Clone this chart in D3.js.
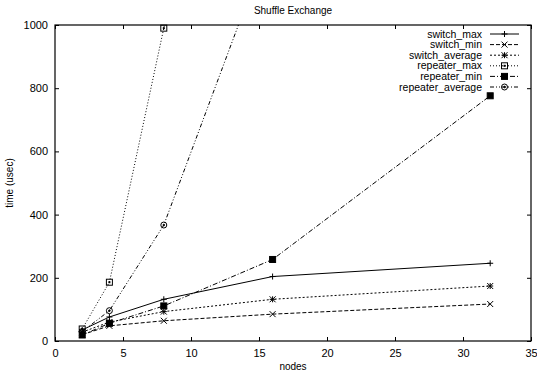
<!DOCTYPE html>
<html>
<head>
<meta charset="utf-8">
<script src="https://cdn.jsdelivr.net/npm/d3@7"></script>
<style>
  body { margin: 0; background: #fff; }
  text { font-family: "Liberation Sans", Arial, sans-serif; fill: #000; }
</style>
</head>
<body>
<svg id="chart" width="537" height="379"></svg>
<script>
// node counts on the x axis
const nodes = [2, 4, 8, 16, 32];

// time (usec) per series, null where the point is not shown
const switchMax = [35, 76, 132, 204, 246];
const switchMin = [20, 48, 64, 85, 117];
const switchAverage = [28, 60, 93, 132, 174];
const repeaterMax = [38, 186, 990, 2600, null];
const repeaterMin = [19, 56, 111, 258, 776];
const repeaterAverage = [30, 96, 367, 1290, null];

const seriesNames = ["switch_max", "switch_min", "switch_average", "repeater_max", "repeater_min", "repeater_average"];
const xTicks = [0, 5, 10, 15, 20, 25, 30, 35];
const yTicks = [0, 200, 400, 600, 800, 1000];

const series = [
  { name: seriesNames[0], values: switchMax, dash: null, marker: "plus" },
  { name: seriesNames[1], values: switchMin, dash: "4,2", marker: "cross" },
  { name: seriesNames[2], values: switchAverage, dash: "2,2", marker: "star" },
  { name: seriesNames[3], values: repeaterMax, dash: "1,2", marker: "box" },
  { name: seriesNames[4], values: repeaterMin, dash: "5,2,1,2", marker: "fbox" },
  { name: seriesNames[5], values: repeaterAverage, dash: "4,2,1,2,1,2", marker: "circle" }
];

const margin = { left: 55, right: 6, top: 25, bottom: 38 };
const width = 537 - margin.left - margin.right;
const height = 379 - margin.top - margin.bottom;

const svg = d3.select("#chart");
const g = svg.append("g").attr("transform", "translate(" + margin.left + "," + margin.top + ")");

const x = d3.scaleLinear().domain([0, 35]).range([0, width]);
const y = d3.scaleLinear().domain([0, 1000]).range([height, 0]);

// axes with inward ticks, mirrored on top and right
function styleAxis(sel) {
  sel.select(".domain").remove();
  sel.selectAll("line").attr("stroke", "#000");
  sel.selectAll("text").style("font-size", "11px");
}
g.append("g").attr("transform", "translate(0," + height + ")")
  .call(d3.axisBottom(x).tickValues(xTicks).tickSize(-4).tickPadding(8).tickFormat(d3.format("d")))
  .call(styleAxis);
g.append("g")
  .call(d3.axisLeft(y).tickValues(yTicks).tickSize(-4).tickPadding(7).tickFormat(d3.format("d")))
  .call(styleAxis);
g.append("g")
  .call(d3.axisTop(x).tickValues(xTicks).tickSize(-4).tickFormat(""))
  .call(styleAxis);
g.append("g").attr("transform", "translate(" + width + ",0)")
  .call(d3.axisRight(y).tickValues(yTicks).tickSize(-4).tickFormat(""))
  .call(styleAxis);

g.append("rect")
  .attr("width", width).attr("height", height)
  .attr("fill", "none").attr("stroke", "#000").attr("stroke-width", 1.2);

// title and axis labels
svg.append("text").attr("x", margin.left + width / 2).attr("y", 14)
  .attr("text-anchor", "middle").style("font-size", "10px").text("Shuffle Exchange");
svg.append("text").attr("x", margin.left + width / 2).attr("y", 370)
  .attr("text-anchor", "middle").style("font-size", "10px").text("nodes");
svg.append("text").attr("transform", "translate(13," + (margin.top + height / 2) + ") rotate(-90)")
  .attr("text-anchor", "middle").style("font-size", "10px").text("time (usec)");

g.append("clipPath").attr("id", "clip")
  .append("rect").attr("x", -4).attr("y", -4).attr("width", width + 8).attr("height", height + 8);
g.append("clipPath").attr("id", "clipLine")
  .append("rect").attr("width", width).attr("height", height);

function drawMarker(sel, type, cx, cy) {
  const s = 3;
  const m = sel.append("g").attr("transform", "translate(" + cx + "," + cy + ")")
    .attr("stroke", "#000").attr("stroke-width", 1).attr("fill", "none");
  if (type === "plus" || type === "star") {
    m.append("line").attr("x1", -s).attr("x2", s);
    m.append("line").attr("y1", -s).attr("y2", s);
  }
  if (type === "cross" || type === "star") {
    m.append("line").attr("x1", -s).attr("y1", -s).attr("x2", s).attr("y2", s);
    m.append("line").attr("x1", -s).attr("y1", s).attr("x2", s).attr("y2", -s);
  }
  if (type === "box") {
    m.append("rect").attr("x", -s).attr("y", -s).attr("width", 2 * s).attr("height", 2 * s);
    m.append("rect").attr("x", -0.5).attr("y", -0.5).attr("width", 1).attr("height", 1).attr("fill", "#000");
  }
  if (type === "fbox") {
    m.append("rect").attr("x", -s).attr("y", -s).attr("width", 2 * s).attr("height", 2 * s).attr("fill", "#000");
  }
  if (type === "circle") {
    m.append("circle").attr("r", s);
    m.append("circle").attr("r", 0.8).attr("fill", "#000");
  }
}

const line = d3.line()
  .defined(d => d[1] !== null)
  .x(d => x(d[0]))
  .y(d => y(d[1]));

series.forEach(s => {
  const pts = nodes.map((n, i) => [n, s.values[i]]);
  g.append("path")
    .attr("clip-path", "url(#clipLine)")
    .attr("d", line(pts))
    .attr("fill", "none")
    .attr("stroke", "#000")
    .attr("stroke-width", 1)
    .attr("stroke-dasharray", s.dash);
  const mg = g.append("g").attr("clip-path", "url(#clip)");
  pts.filter(p => p[1] !== null && p[1] <= 1000)
    .forEach(p => drawMarker(mg, s.marker, x(p[0]), y(p[1])));
});

// legend
const legend = svg.append("g");
series.forEach((s, i) => {
  const ly = 34 + i * 10.6;
  legend.append("text").attr("x", 482).attr("y", ly + 3.5)
    .attr("text-anchor", "end").style("font-size", "10.5px").text(s.name);
  legend.append("line").attr("x1", 490).attr("x2", 519).attr("y1", ly).attr("y2", ly)
    .attr("stroke", "#000").attr("stroke-dasharray", s.dash);
  drawMarker(legend, s.marker, 504.5, ly);
});
</script>
</body>
</html>
